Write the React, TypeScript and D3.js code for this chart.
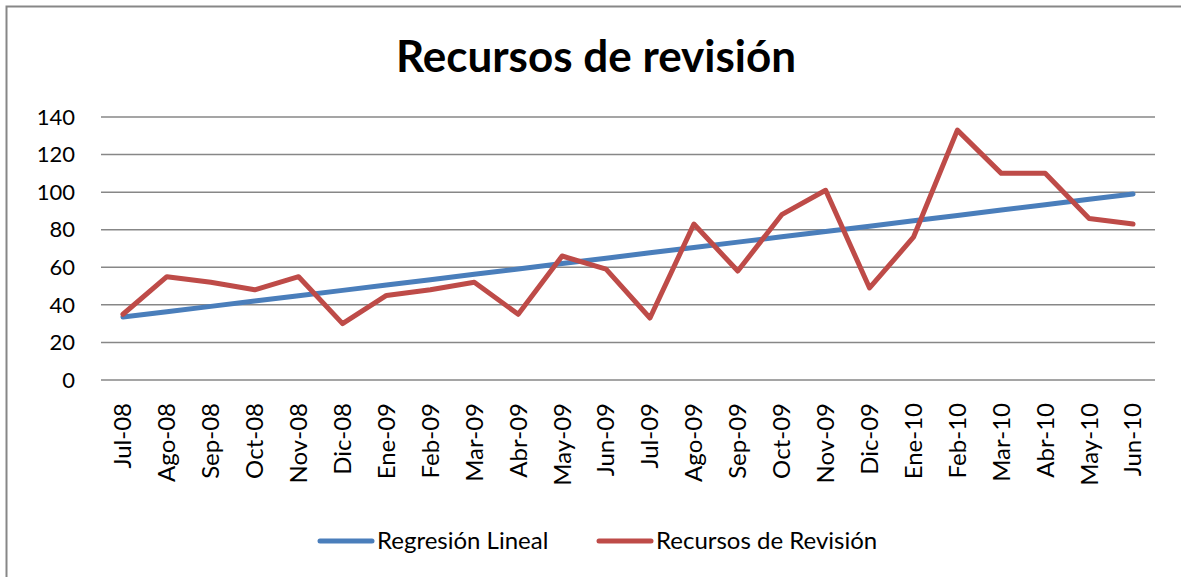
import { useEffect, useRef } from 'react'
import * as d3 from 'd3'

const months = ['Jul-08', 'Ago-08', 'Sep-08', 'Oct-08', 'Nov-08', 'Dic-08', 'Ene-09', 'Feb-09', 'Mar-09', 'Abr-09', 'May-09', 'Jun-09',
  'Jul-09', 'Ago-09', 'Sep-09', 'Oct-09', 'Nov-09', 'Dic-09', 'Ene-10', 'Feb-10', 'Mar-10', 'Abr-10', 'May-10', 'Jun-10']

const recursos = [35, 55, 52, 48, 55, 30, 45, 48, 52, 35, 66, 59, 33, 83, 58, 88, 101, 49, 76, 133, 110, 110, 86, 83]

const regresion = [33.5, 36.3, 39.2, 42.0, 44.9, 47.7, 50.6, 53.4, 56.3, 59.1, 62.0, 64.8,
  67.7, 70.5, 73.4, 76.2, 79.1, 81.9, 84.8, 87.6, 90.5, 93.3, 96.2, 99.0]

const yTicks = [0, 20, 40, 60, 80, 100, 120, 140]

const series = [
  { label: 'Regresión Lineal', values: regresion, color: '#4A7EBB' },
  { label: 'Recursos de Revisión', values: recursos, color: '#BE4B48' }
]

export default function App() {
  const ref = useRef<SVGSVGElement>(null)

  useEffect(() => {
    if (!ref.current) return
    const width = 1181, height = 577
    const margin = { top: 117, right: 26, bottom: 197, left: 101 }
    const font = 'Lato, "Open Sans", sans-serif'

    const svg = d3.select(ref.current)
    svg.selectAll('*').remove()

    svg.append('rect')
      .attr('x', 6.5).attr('y', 6.5)
      .attr('width', width + 10).attr('height', height + 10)
      .attr('fill', '#fff')
      .attr('stroke', '#878787')
      .attr('stroke-width', 2)

    const x = d3.scaleBand()
      .domain(months)
      .range([margin.left, width - margin.right])

    const y = d3.scaleLinear()
      .domain([0, 140])
      .range([height - margin.bottom, margin.top])

    // grid
    svg.append('g')
      .selectAll('line')
      .data(yTicks)
      .join('line')
      .attr('x1', margin.left)
      .attr('x2', width - margin.right)
      .attr('y1', d => y(d))
      .attr('y2', d => y(d))
      .attr('stroke', '#878787')
      .attr('stroke-width', 1.5)

    svg.append('g')
      .selectAll('text')
      .data(yTicks)
      .join('text')
      .attr('x', 75)
      .attr('y', d => y(d))
      .attr('dy', '0.35em')
      .attr('text-anchor', 'end')
      .style('font-family', font)
      .style('font-size', '22px')
      .attr('fill', '#000')
      .text(d => d)

    svg.append('g')
      .selectAll('text')
      .data(months)
      .join('text')
      .attr('transform', d => `translate(${x(d)! + x.bandwidth() / 2},403) rotate(-90)`)
      .attr('dy', '0.35em')
      .attr('text-anchor', 'end')
      .style('font-family', font)
      .style('font-size', '24px')
      .attr('fill', '#000')
      .text(d => d)

    const line = d3.line<number>()
      .x((_, i) => x(months[i])! + x.bandwidth() / 2)
      .y(d => y(d))

    series.forEach(s => {
      svg.append('path')
        .datum(s.values)
        .attr('fill', 'none')
        .attr('stroke', s.color)
        .attr('stroke-width', 5)
        .attr('stroke-linejoin', 'round')
        .attr('stroke-linecap', 'round')
        .attr('d', line)
    })

    svg.append('text')
      .attr('x', 596)
      .attr('y', 72)
      .attr('text-anchor', 'middle')
      .style('font-family', font)
      .style('font-weight', 'bold')
      .style('font-size', '44px')
      .attr('fill', '#000')
      .text('Recursos de revisión')

    const legendX = [318, 597]
    series.forEach((s, i) => {
      const g = svg.append('g').attr('transform', `translate(${legendX[i]},541)`)
      g.append('line')
        .attr('x1', 2).attr('x2', 54)
        .attr('stroke', s.color)
        .attr('stroke-width', 5)
        .attr('stroke-linecap', 'round')
      g.append('text')
        .attr('x', 59)
        .attr('dy', '0.35em')
        .style('font-family', font)
        .style('font-size', '24px')
        .attr('fill', '#000')
        .text(s.label)
    })
  }, [])

  return (
    <svg ref={ref} width={1181} height={577} style={{ position: 'absolute', left: 0, top: 0, display: 'block' }}></svg>
  )
}
